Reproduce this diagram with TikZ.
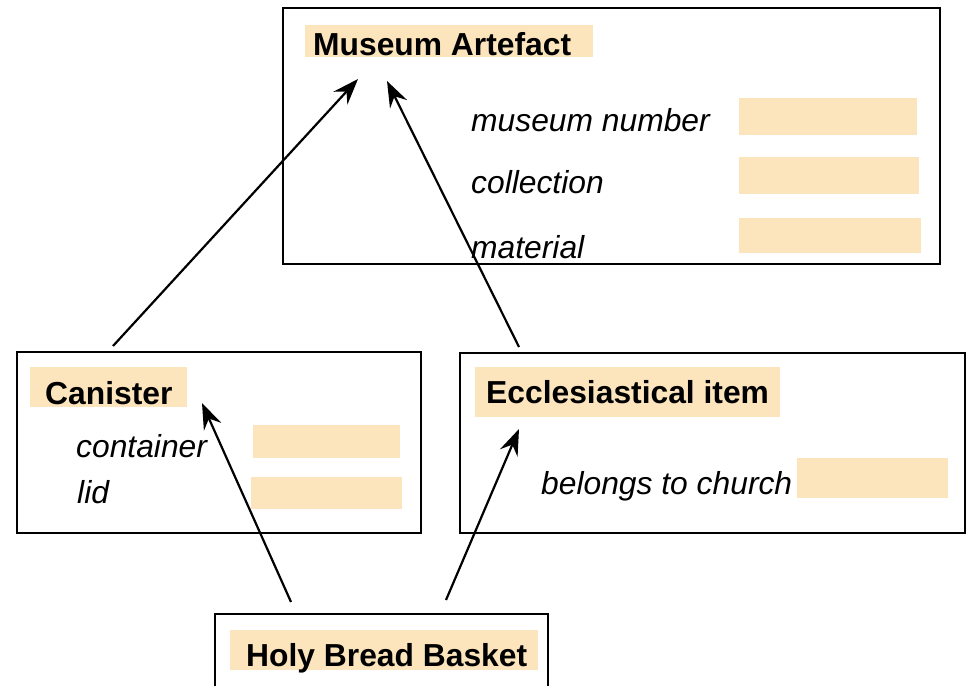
\documentclass[tikz,border=0pt]{standalone}
\usepackage{fontspec}
\setmainfont{Liberation Sans}
\usetikzlibrary{arrows.meta}
\definecolor{slotfill}{RGB}{252,228,189}
\begin{document}
\begin{tikzpicture}[x=1pt,y=-1pt,
  classbox/.style={draw=black,line width=2.5pt,fill=none,inner sep=0pt,outer sep=0pt,anchor=north west},
  slot/.style={fill=slotfill,draw=none,inner sep=0pt,outer sep=0pt,anchor=north west},
  title/.style={inner sep=0pt,anchor=base west,font=\fontsize{31.8}{38}\selectfont\bfseries},
  attr/.style={inner sep=0pt,anchor=base west,font=\fontsize{31.8}{38}\selectfont\itshape},
  isa/.style={line width=2.2pt,arrows={-Stealth[length=26pt,width=19pt,inset=9pt]}}]
\useasboundingbox (0,0) rectangle (973,685);

% Museum Artefact
\node[classbox,minimum width=657pt,minimum height=256pt] (ma) at (283,8) {};
\node[slot,minimum width=288pt,minimum height=32pt] (ma-hl) at (305,25) {};
\node[title] (ma-t) at (313,56) {Museum Artefact};
\node[attr] (ma-a1) at (471,131) {museum number};
\node[attr] (ma-a2) at (471,193) {collection};
\node[attr] (ma-a3) at (471,258) {material};
\node[slot,minimum width=178pt,minimum height=37pt] (ma-s1) at (739,98) {};
\node[slot,minimum width=180pt,minimum height=37pt] (ma-s2) at (739,157) {};
\node[slot,minimum width=182pt,minimum height=35pt] (ma-s3) at (739,218) {};

% Canister
\node[classbox,minimum width=404pt,minimum height=181pt] (ca) at (17,352) {};
\node[slot,minimum width=157pt,minimum height=40pt] (ca-hl) at (30,367) {};
\node[title] (ca-t) at (45,404) {Canister};
\node[attr] (ca-a1) at (76,457) {container};
\node[attr] (ca-a2) at (77,503) {lid};
\node[slot,minimum width=147pt,minimum height=33pt] (ca-s1) at (253,425) {};
\node[slot,minimum width=151pt,minimum height=32pt] (ca-s2) at (251,477) {};

% Ecclesiastical item
\node[classbox,minimum width=505pt,minimum height=180pt] (ec) at (460,353) {};
\node[slot,minimum width=305pt,minimum height=50pt] (ec-hl) at (475,367) {};
\node[title] (ec-t) at (486,403) {Ecclesiastical item};
\node[attr] (ec-a1) at (541,494) {belongs to church};
\node[slot,minimum width=151pt,minimum height=40pt] (ec-s1) at (797,458) {};

% Holy Bread Basket
\node[classbox,minimum width=333pt,minimum height=100pt] (hb) at (215,614) {};
\node[slot,minimum width=308pt,minimum height=40pt] (hb-hl) at (230,630) {};
\node[title] (hb-t) at (246,666) {Holy Bread Basket};

% connector end points
\coordinate (ca-out) at (113,346);
\coordinate (ma-in1) at (358,79);
\coordinate (ec-out) at (519,347);
\coordinate (ma-in2) at (387,81);
\coordinate (hb-out1) at (291,602);
\coordinate (ca-in) at (202,403);
\coordinate (hb-out2) at (446,600);
\coordinate (ec-in) at (519,429);

\draw[isa] (ca-out) -- (ma-in1);
\draw[isa] (ec-out) -- (ma-in2);
\draw[isa] (hb-out1) -- (ca-in);
\draw[isa] (hb-out2) -- (ec-in);
\end{tikzpicture}
\end{document}
